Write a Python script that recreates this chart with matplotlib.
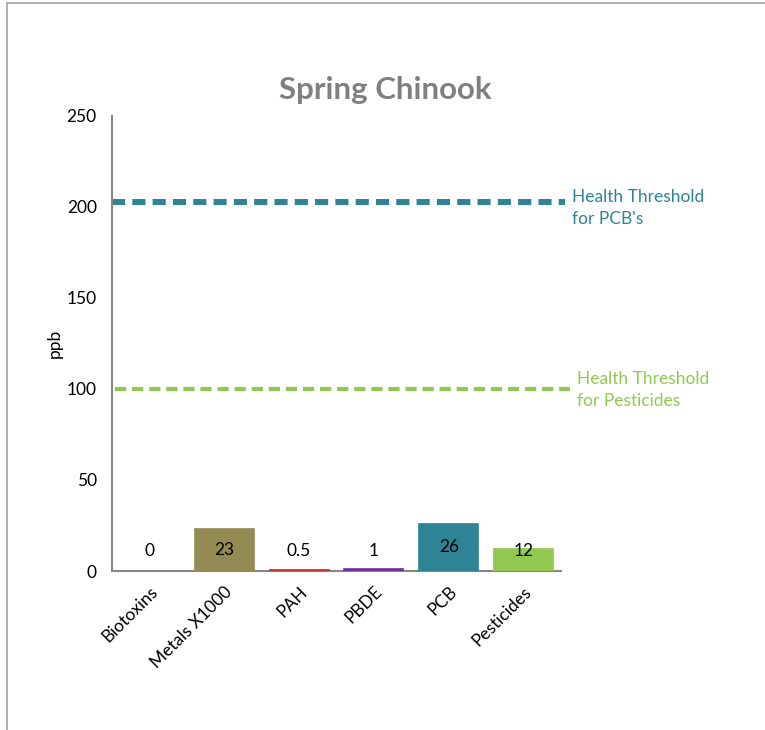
import matplotlib
matplotlib.use("Agg")
import matplotlib.pyplot as plt
from matplotlib.lines import Line2D

categories = ["Biotoxins", "Metals X1000", "PAH", "PBDE", "PCB", "Pesticides"]
values = [0, 23, 0.5, 1, 26, 12]
value_labels = ["0", "23", "0.5", "1", "26", "12"]
bar_colors = ["#FFFFFF", "#948A54", "#C0302B", "#7030A0", "#2E8394", "#92C850"]
pcb_threshold = 203
pesticide_threshold = 100
yticks = [0, 50, 100, 150, 200, 250]

plt.rcParams['font.family'] = ['Lato', 'DejaVu Sans']

fig = plt.figure(figsize=(7.65, 7.30), dpi=100)
ax = fig.add_axes([112/765, 1-571/730, 449/765, (571-116)/730])

x = list(range(len(categories)))
edge_colors = [c if v > 0 else 'none' for c, v in zip(bar_colors, values)]
face_colors = [c if v > 0 else 'none' for c, v in zip(bar_colors, values)]
ax.bar(x, values, width=0.79, color=face_colors, edgecolor=edge_colors, linewidth=1.2, zorder=3)
for xi, v, lab in zip(x, values, value_labels):
    ax.text(xi, max(v/2, 11), lab, ha='center', va='center', fontsize=12.5, color='black', zorder=4)

ax.set_xlim(-0.5, 5.5)
ax.set_ylim(0, 250)
ax.set_yticks(yticks)
ax.set_yticklabels([str(t) for t in yticks], fontsize=12.5)
ax.tick_params(axis='y', length=0, pad=11)
ax.set_xticks(x)
ax.set_xticklabels(categories, rotation=45, ha='right', rotation_mode='anchor', fontsize=12.5)
ax.tick_params(axis='x', length=0, pad=9)
ax.set_ylabel("ppb", fontsize=12.5, labelpad=3)

for s in ['top', 'right']:
    ax.spines[s].set_visible(False)
for s in ['left', 'bottom']:
    ax.spines[s].set_color('#868686')
    ax.spines[s].set_linewidth(1.5)

teal = "#2E8394"
green = "#92C850"
ax.axhline(pcb_threshold, xmin=0.0, xmax=1.009, color=teal, lw=4.3,
           dashes=(2.2, 1.2), clip_on=False)
ax.axhline(pesticide_threshold, xmin=0.007, xmax=1.02, color=green, lw=3.0,
           dashes=(2.7, 1.4), clip_on=False)

ax.text(1.025, pcb_threshold - 3.5, "Health Threshold\nfor PCB's", transform=ax.get_yaxis_transform(),
        ha='left', va='center', fontsize=12.5, color=teal, linespacing=1.45, clip_on=False)
ax.text(1.035, pesticide_threshold - 0.5, "Health Threshold\nfor Pesticides", transform=ax.get_yaxis_transform(),
        ha='left', va='center', fontsize=12.5, color=green, linespacing=1.45, clip_on=False)

fig.text(385/765, 1-90/730, "Spring Chinook", ha='center', va='center', fontsize=22.5,
         fontweight='bold', color='#808080')

# chart border
fig.add_artist(Line2D([7/765, 7/765], [0, 1-3/730], transform=fig.transFigure, color='#A6A6A6', lw=1.2))
fig.add_artist(Line2D([7/765, 1], [1-3/730, 1-3/730], transform=fig.transFigure, color='#A6A6A6', lw=1.2))

fig.savefig("out.png", dpi=100)
